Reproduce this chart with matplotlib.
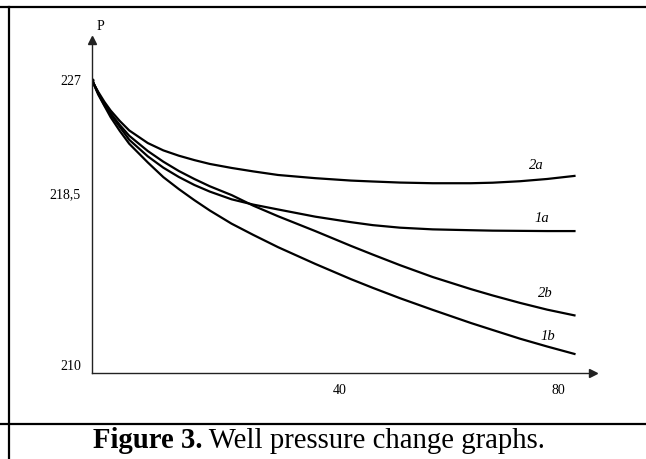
import matplotlib.pyplot as plt
import numpy as np
from matplotlib.lines import Line2D

plt.rcParams['font.family'] = ['Liberation Serif', 'DejaVu Serif']

# time, and well pressure for the four cases
t = [0, 0.4, 1, 2, 3, 4.5, 6, 9, 11.5, 14, 16.5, 19, 22.5, 26, 30, 36, 42, 46,
     51, 57, 64, 68, 73, 78, 83]
p_2a = [227.0, 226.6, 226.1, 225.35, 224.7, 223.9, 223.2, 222.25, 221.7, 221.3,
        220.97, 220.68, 220.38, 220.12, 219.85, 219.61, 219.43, 219.36, 219.28,
        219.23, 219.23, 219.27, 219.38, 219.55, 219.78]
p_2b = [227.0, 226.6, 226.0, 225.2, 224.5, 223.6, 222.8, 221.65, 220.85, 220.15,
        219.55, 219.0, 218.4, 217.9, 217.4, 216.7, 216.0, 215.59, 215.09, 214.53,
        213.96, 213.66, 213.31, 212.99, 212.72]
p_1a = [227.0, 226.6, 226.0, 225.1, 224.4, 223.45, 222.5, 221.25, 220.4, 219.7,
        219.1, 218.6, 218.2, 217.95, 217.72, 217.38, 217.12, 216.98, 216.86,
        216.78, 216.74, 216.72, 216.71, 216.7, 216.7]
p_1b = [227.0, 226.55, 225.9, 225.05, 224.2, 223.15, 222.2, 220.79, 219.69, 218.79,
        218.16, 217.67, 217.05, 216.52, 215.94, 215.15, 214.43, 214.02, 213.53,
        212.98, 212.36, 212.03, 211.62, 211.25, 210.9]

curves = [('2a', p_2a, (76.1, 220.6)),
          ('1a', p_1a, (77.1, 217.27)),
          ('2b', p_2b, (77.6, 213.73)),
          ('1b', p_1b, (78.2, 211.7))]

x_ticks = [40, 80]
y_ticks = [227, 218.5, 210]
y_labels = ['227', '218,5', '210']

# the original axes are drawn by hand, so the scales are piecewise linear
x_knots = [-100, 0, 40, 200]
x_pos = [-620, 0, 248, 1120]
y_knots = [150, 210, 218.5, 227, 300]
y_pos = [-1270.6, 0, 180, 293, 1263.5]


def x_fwd(v):
    return np.interp(v, x_knots, x_pos)


def x_inv(v):
    return np.interp(v, x_pos, x_knots)


def y_fwd(v):
    return np.interp(v, y_knots, y_pos)


def y_inv(v):
    return np.interp(v, y_pos, y_knots)


W, H = 646, 459
fig = plt.figure(figsize=(W / 100, H / 100), dpi=100)
ax = fig.add_axes([92 / W, 1 - 373 / H, (593 - 92) / W, (373 - 40) / H])
ax.set_xscale('function', functions=(x_fwd, x_inv))
ax.set_yscale('function', functions=(y_fwd, y_inv))
ax.set_xlim(0, 86.4)
ax.set_ylim(210, 230.0)

for name, p, (lx, ly) in curves:
    ax.plot(t, p, color='black', lw=1.6, solid_joinstyle='round')
    ax.text(lx, ly, name, style='italic', fontsize=10.5, ha='center', va='center')

ax.plot(0, 227, 'k.', ms=4)

ax.spines['top'].set_visible(False)
ax.spines['right'].set_visible(False)
for s in ['left', 'bottom']:
    ax.spines[s].set_linewidth(1.0)
    ax.spines[s].set_color('#222222')
# arrow heads on both axes
ax.plot(1, 0, '>', color='#222222', ms=6, transform=ax.transAxes, clip_on=False)
ax.plot(0, 1, '^', color='#222222', ms=6, transform=ax.transAxes, clip_on=False)

ax.set_xticks(x_ticks)
ax.set_xticklabels([str(v) for v in x_ticks])
ax.set_yticks(y_ticks)
ax.set_yticklabels(y_labels)
ax.tick_params(length=0, labelsize=10)
ax.tick_params(axis='y', pad=8)
ax.tick_params(axis='x', pad=8)
ax.get_yticklabels()[2].set_va('bottom')
ax.minorticks_off()
ax.patch.set_visible(False)

fig.text(97 / W, 1 - 27 / H, 'P', fontsize=10, ha='left', va='center')

# table frame around the figure
lines = [([0, W], [6.5, 6.5]), ([8.5, 8.5], [6.5, H]), ([0, W], [424, 424])]
for xs, ys in lines:
    fig.add_artist(Line2D([x / W for x in xs], [1 - y / H for y in ys],
                          color='black', lw=1.6))

cap = fig.text(93 / W, 1 - 441 / H, 'Figure 3.', fontsize=20.7, fontweight='bold',
               ha='left', va='center')
plt.annotate(' Well pressure change graphs.', xy=(1, 0), xycoords=cap,
             fontsize=20.7, ha='left', va='bottom', annotation_clip=False)

fig.savefig('out.png', dpi=100)
